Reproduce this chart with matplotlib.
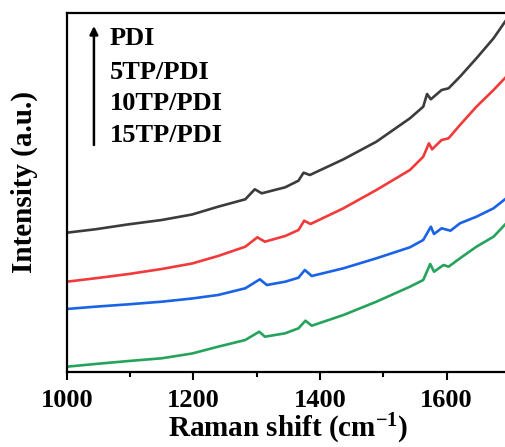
import matplotlib
matplotlib.use('Agg')
import matplotlib.pyplot as plt

plt.rcParams['font.family'] = 'Liberation Serif'
plt.rcParams['font.weight'] = 'bold'
plt.rcParams['mathtext.fontset'] = 'custom'
plt.rcParams['mathtext.rm'] = 'Liberation Serif:bold'
plt.rcParams['mathtext.bf'] = 'Liberation Serif:bold'
plt.rcParams['mathtext.default'] = 'bf'

# Raman spectra (shift in cm^-1, intensity in arbitrary units, stacked)
pdi_x = [1000, 1045, 1098, 1150, 1198, 1239, 1282, 1297, 1308, 1345, 1366, 1374, 1384,
         1437, 1489, 1542, 1563, 1569, 1575, 1592, 1603, 1621, 1647, 1674, 1694]
pdi_y = [139.3, 142.7, 147.7, 152.0, 157.5, 165.3, 172.7, 182.7, 178.7, 184.7, 191.3, 199.3, 197.0,
         212.7, 230.3, 253.7, 265.3, 278.0, 272.7, 282.0, 283.7, 295.3, 313.7, 333.7, 352.0]

tp5_x = [1000, 1045, 1098, 1150, 1198, 1239, 1282, 1301, 1313, 1345, 1366, 1375, 1385,
         1437, 1489, 1542, 1563, 1572, 1577, 1592, 1603, 1621, 1647, 1674, 1694]
tp5_y = [90.3, 93.7, 98.0, 103.0, 108.5, 116.0, 125.3, 134.7, 130.3, 136.0, 142.0, 151.3, 148.0,
         163.7, 182.0, 202.0, 215.3, 228.7, 222.7, 232.0, 233.7, 247.0, 265.3, 282.0, 295.3]

tp10_x = [1000, 1045, 1098, 1150, 1198, 1239, 1282, 1305, 1316, 1345, 1366, 1376, 1387,
          1437, 1489, 1542, 1563, 1575, 1580, 1592, 1606, 1621, 1647, 1674, 1694]
tp10_y = [63.0, 65.3, 67.7, 70.3, 73.5, 77.0, 83.7, 92.7, 87.0, 90.3, 94.3, 102.0, 96.0,
          103.7, 113.7, 124.7, 132.0, 145.3, 138.0, 143.7, 141.3, 148.7, 155.3, 163.7, 173.7]

tp15_x = [1000, 1045, 1098, 1150, 1198, 1239, 1282, 1304, 1313, 1345, 1366, 1377, 1387,
          1437, 1489, 1542, 1563, 1574, 1580, 1595, 1603, 1621, 1647, 1674, 1694]
tp15_y = [5.3, 8.0, 11.0, 13.7, 18.5, 25.3, 32.0, 40.3, 35.3, 38.7, 43.7, 51.3, 46.3,
          57.0, 70.3, 85.3, 92.0, 108.0, 100.3, 107.0, 105.3, 113.7, 125.3, 135.3, 148.7]

labels = ['PDI', '5TP/PDI', '10TP/PDI', '15TP/PDI']
colors = ['#3c3c3c', '#f23a3a', '#1a62e6', '#25a35c']
xticks = [1000, 1200, 1400, 1600]

fig = plt.figure(figsize=(5.06, 4.47), dpi=100)
ax = fig.add_axes([66.7 / 506, 75 / 447, (510 - 66.7) / 506, (372 - 13) / 447])

series = [(pdi_x, pdi_y), (tp5_x, tp5_y), (tp10_x, tp10_y), (tp15_x, tp15_y)]
for (x, y), c in zip(series, colors):
    ax.plot(x, y, color=c, linewidth=1.9, solid_joinstyle='round')

ax.set_xlim(1000, 1700)
ax.set_ylim(0, 359)
ax.set_xticks(xticks)
ax.set_xticks([1100, 1300, 1500], minor=True)
ax.set_yticks([])
ax.tick_params(axis='x', which='major', direction='out', length=6, width=1.5,
               labelsize=19, pad=6)
ax.tick_params(axis='x', which='minor', direction='out', length=3.5, width=1.5)
for s in ax.spines.values():
    s.set_linewidth(1.6)

ax.set_xlabel('Raman shift (cm$^{-1}$)', fontsize=21, fontweight='bold', labelpad=0)
ax.set_ylabel('Intensity (a.u.)', fontsize=21, fontweight='bold')
ax.yaxis.set_label_coords(-0.065, 0.53)

# arrow and sample labels in the upper left corner
ax.annotate('', xy=(1043, 346), xytext=(1043, 227),
            arrowprops=dict(arrowstyle='-|>', color='black', lw=1.8,
                            mutation_scale=12, shrinkA=0, shrinkB=0))
label_y = [333.7, 299.3, 269, 237]
for t, ly in zip(labels, label_y):
    ax.text(1068, ly, t, fontsize=19, fontweight='bold', va='center', ha='left')

fig.savefig('out.png', dpi=100)
